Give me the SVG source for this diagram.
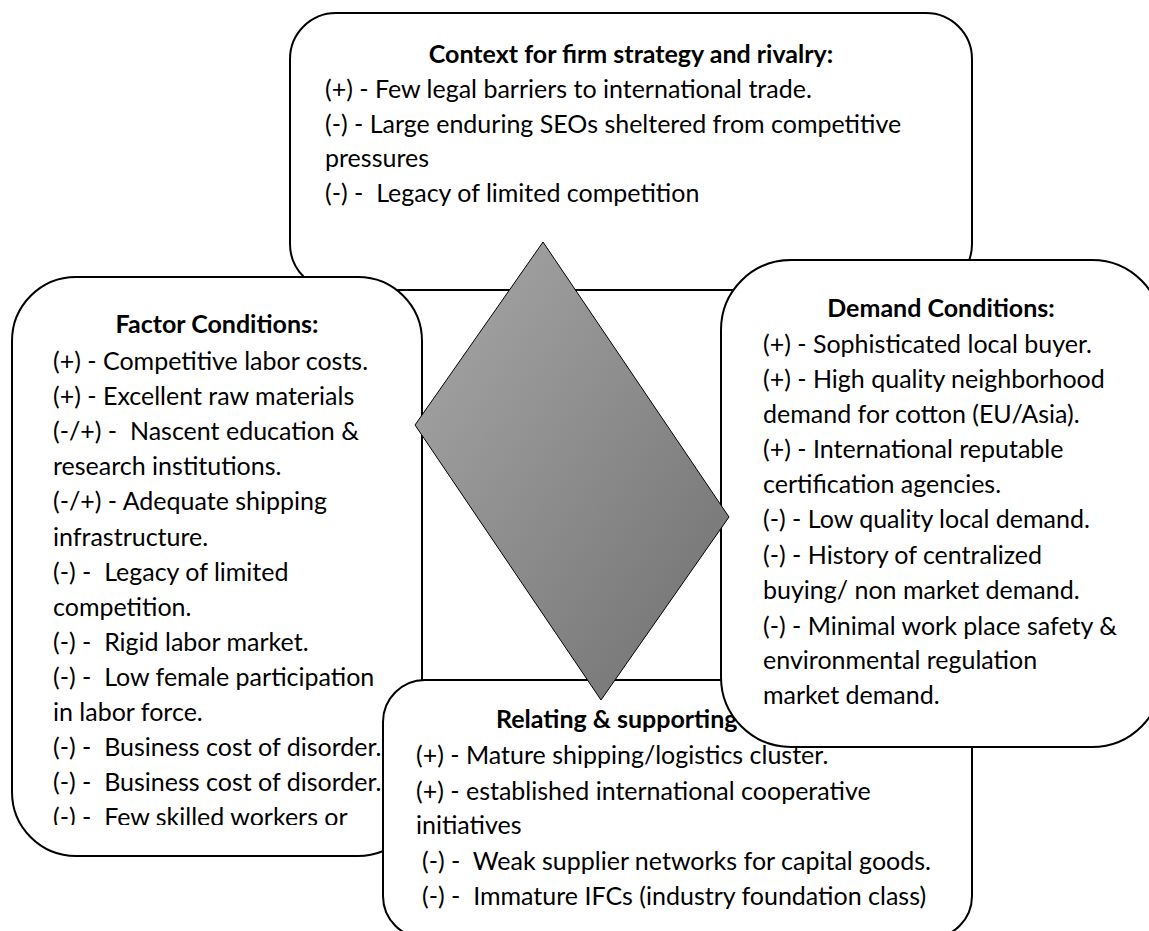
<svg xmlns="http://www.w3.org/2000/svg" width="1149" height="931" viewBox="0 0 1149 931">
<style>
.box{fill:#fff;stroke:#000;stroke-width:2}
text{font-family:Lato,"Liberation Sans",sans-serif;font-size:25px;fill:#000;white-space:pre}
.t{font-weight:bold;text-anchor:middle}
</style>
<defs>
<linearGradient id="dg" x1="0" y1="0" x2="1" y2="1">
<stop offset="0" stop-color="#a8a8a8"/>
<stop offset="1" stop-color="#707070"/>
</linearGradient>
<clipPath id="lc"><rect x="0" y="0" width="430" height="825"/></clipPath>
</defs>
<g id="context">
<rect class="box" x="290" y="13" width="682" height="277" rx="46"/>
<text class="t" x="631" y="63">Context for firm strategy and rivalry:</text>
<text x="325" y="98">(+) - Few legal barriers to international trade.</text>
<text x="325" y="133">(-) - Large enduring SEOs sheltered from competitive</text>
<text x="325" y="167">pressures</text>
<text x="325" y="202">(-) -  Legacy of limited competition</text>
</g>
<g id="factor">
<rect class="box" x="12" y="277" width="410" height="579" rx="64"/>
<text class="t" x="217" y="333">Factor Conditions:</text>
<g clip-path="url(#lc)">
<text x="53" y="370">(+) - Competitive labor costs.</text>
<text x="53" y="405">(+) - Excellent raw materials</text>
<text x="53" y="440">(-/+) -  Nascent education &amp;</text>
<text x="53" y="475">research institutions.</text>
<text x="53" y="510">(-/+) - Adequate shipping</text>
<text x="53" y="546">infrastructure.</text>
<text x="53" y="581">(-) -  Legacy of limited</text>
<text x="53" y="616">competition.</text>
<text x="53" y="651">(-) -  Rigid labor market.</text>
<text x="53" y="686">(-) -  Low female participation</text>
<text x="53" y="721">in labor force.</text>
<text x="53" y="756">(-) -  Business cost of disorder.</text>
<text x="53" y="791">(-) -  Business cost of disorder.</text>
<text x="53" y="826">(-) -  Few skilled workers or</text>
</g>
</g>
<g id="related">
<rect class="box" x="383" y="680" width="589" height="258" rx="42"/>
<text x="496" y="728" style="font-weight:bold">Relating &amp; supporting</text>
<text x="416" y="764">(+) - Mature shipping/logistics cluster.</text>
<text x="416" y="800">(+) - established international cooperative</text>
<text x="416" y="834">initiatives</text>
<text x="422" y="870">(-) -  Weak supplier networks for capital goods.</text>
<text x="422" y="905">(-) -  Immature IFCs (industry foundation class)</text>
</g>
<g id="demand">
<rect class="box" x="721" y="260" width="441" height="487" rx="70"/>
<text class="t" x="941" y="317">Demand Conditions:</text>
<text x="763" y="353">(+) - Sophisticated local buyer.</text>
<text x="763" y="388">(+) - High quality neighborhood</text>
<text x="763" y="423">demand for cotton (EU/Asia).</text>
<text x="763" y="458">(+) - International reputable</text>
<text x="763" y="493">certification agencies.</text>
<text x="763" y="528">(-) - Low quality local demand.</text>
<text x="763" y="564">(-) - History of centralized</text>
<text x="763" y="599">buying/ non market demand.</text>
<text x="763" y="635">(-) - Minimal work place safety &amp;</text>
<text x="763" y="669">environmental regulation</text>
<text x="763" y="704">market demand.</text>
</g>
<g id="connectors"></g>
<g id="diamond">
<polygon points="543,242 729,517 601,700 415,425" fill="url(#dg)" stroke="#000" stroke-width="1"/>
</g>
</svg>
